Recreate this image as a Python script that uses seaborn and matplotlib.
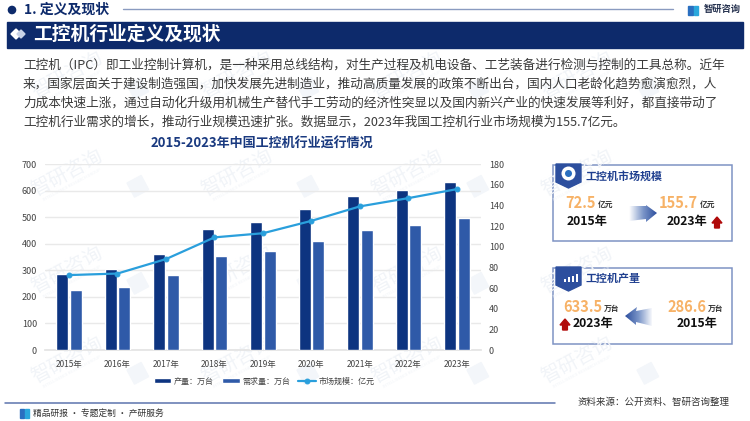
import matplotlib
matplotlib.use('Agg')
import matplotlib.pyplot as plt
from matplotlib.colors import LinearSegmentedColormap
from matplotlib.patches import Circle, Polygon, Rectangle
import seaborn as sns
import pandas as pd
import numpy as np

# 数据
years = ['2015年', '2016年', '2017年', '2018年', '2019年', '2020年', '2021年', '2022年', '2023年']
output_vals = [286.6, 305, 362, 455, 480, 530, 580, 602, 633.5]
demand_vals = [225, 238, 281, 354, 371, 410, 452, 471, 495]
market_vals = [72.5, 74, 88, 109, 113, 125, 139, 147, 155.7]

body_lines = [
    '工控机（IPC）即工业控制计算机，是一种采用总线结构，对生产过程及机电设备、工艺装备进行检测与控制的工具总称。近年',
    '来，国家层面关于建设制造强国，加快发展先进制造业，推动高质量发展的政策不断出台，国内人口老龄化趋势愈演愈烈，人',
    '力成本快速上涨，通过自动化升级用机械生产替代手工劳动的经济性突显以及国内新兴产业的快速发展等利好，都直接带动了',
    '工控机行业需求的增长，推动行业规模迅速扩张。数据显示，2023年我国工控机行业市场规模为155.7亿元。',
]

NAVY = '#0d2a6b'
DARK_BAR = '#0d3480'
LIGHT_BAR = '#2f5aa8'
LINE_BLUE = '#2a9fdc'
ORANGE = '#f7b267'
RED = '#b00a0a'
WATERMARK = '#f1f4f8'
W, H = 750, 421

sns.set_theme(style='white')
plt.rcParams['font.family'] = ['Noto Sans CJK SC', 'DejaVu Sans']
plt.rcParams['axes.unicode_minus'] = False

fig = plt.figure(figsize=(7.5, 4.21), dpi=100, facecolor='white')

# 背景层，用像素坐标
bg = fig.add_axes([0, 0, 1, 1], zorder=0)
bg.set_xlim(0, W)
bg.set_ylim(H, 0)
bg.axis('off')

# 水印
for y in [75, 173, 270, 360]:
    for col in range(4):
        x = 67 + col * 170
        bg.text(x, y, '智研咨询', fontsize=14, color=WATERMARK, rotation=28, ha='center', va='center')
        bg.text(x + 5, y + 12, 'INTELLIGENCE RESEARCH GROUP', fontsize=3, color=WATERMARK, rotation=28,
                ha='center', va='center')
        bg.add_patch(Rectangle((x + 60, y + 10), 16, 16, color='#f3f6fa', angle=-28))

# 页眉
bg.add_patch(Circle((12, 10), 3.6, color=NAVY))
bg.text(24, 9.5, '1. 定义及现状', fontsize=10, fontweight='bold', color=NAVY, va='center')
bg.plot([123, 673], [9, 9], color='#8a9bc0', lw=1)
bg.add_patch(Rectangle((688, 6), 4.5, 9, color='#2a6fc0'))
bg.add_patch(Rectangle((693.5, 6), 4.5, 9, color='#2aa7dc'))
bg.text(704, 9, '智研咨询', fontsize=6.7, fontweight='bold', color='#26324f', va='center')
bg.add_patch(Rectangle((7, 21.5), 736, 26, color=NAVY))
bg.add_patch(Polygon([(11, 34), (16, 29), (21, 34), (16, 39)], color='white'))
bg.add_patch(Polygon([(17, 34), (21, 30), (25, 34), (21, 38)], color='#c8d2e6'))
bg.text(33, 34, '工控机行业定义及现状', fontsize=13.5, fontweight='bold', color='white', va='center')

# 正文
for i, line in enumerate(body_lines):
    bg.text(23, 65 + i * 19, line, fontsize=9.12, color='#3a3a3a', va='center')

bg.text(262, 144, '2015-2023年中国工控机行业运行情况', fontsize=9.4, fontweight='bold', color='#1a3a80',
        ha='center', va='center')

# 主图
df = pd.DataFrame({'year': years, '产量：万台': output_vals, '需求量：万台': demand_vals})
df = df.melt(id_vars='year', var_name='kind', value_name='value')

ax = fig.add_axes([44.75 / W, 1 - 350 / H, 436.5 / W, 186 / H], zorder=2)
ax.patch.set_alpha(0)
sns.barplot(data=df, x='year', y='value', hue='kind', palette=[DARK_BAR, LIGHT_BAR], saturation=1,
            width=0.57, gap=0.12, ax=ax, zorder=3)
handles, labels = ax.get_legend_handles_labels()
ax.get_legend().remove()
ax.set_ylim(0, 700)
ax.set_yticks(range(0, 701, 100))
ax.set_xlabel('')
ax.set_ylabel('')
ax.grid(axis='y', color='#e9e9e9', lw=1)
ax.set_axisbelow(True)
ax.tick_params(axis='x', length=0, labelsize=6, labelcolor='#444444', pad=7)
ax.tick_params(axis='y', length=0, labelsize=6.5, labelcolor='#444444', pad=5.5)
sns.despine(ax=ax, left=True)
ax.spines['bottom'].set_color('#e4e4e4')

ax2 = ax.twinx()
ax2.patch.set_alpha(0)
sns.lineplot(x=np.arange(len(years)), y=market_vals, color=LINE_BLUE, lw=1.6, marker='o', ms=3.5,
             mec=LINE_BLUE, label='市场规模：亿元', ax=ax2, zorder=5)
h2, l2 = ax2.get_legend_handles_labels()
ax2.get_legend().remove()
ax2.set_ylim(0, 180)
ax2.set_yticks(range(0, 181, 20))
ax2.set_xlim(-0.5, len(years) - 0.5)
ax2.set_ylabel('')
ax2.grid(False)
ax2.tick_params(axis='y', length=0, labelsize=6.5, labelcolor='#444444', pad=5.5)
sns.despine(ax=ax2, left=True, right=True, top=True)
ax2.spines['bottom'].set_visible(False)

fig.legend(handles + h2, labels + l2, loc='center', bbox_to_anchor=(264 / W, 1 - 381 / H), ncol=3, frameon=False,
           fontsize=5.8, labelcolor='#444444', handlelength=2.2, handleheight=0.5, columnspacing=1.0, handletextpad=0.3)


def gradient_arrow(points, extent, cmap_colors):
    cmap = LinearSegmentedColormap.from_list('arrow', cmap_colors)
    im = bg.imshow(np.linspace(0, 1, 64).reshape(1, -1), extent=extent, cmap=cmap, aspect='auto', zorder=3)
    patch = Polygon(points, transform=bg.transData, fc='none', ec='none')
    bg.add_patch(patch)
    im.set_clip_path(patch)
    bg.set_xlim(0, W)
    bg.set_ylim(H, 0)


def panel(top, title):
    bg.add_patch(Rectangle((553, top), 179, 76, fc='white', ec='#7f93c4', lw=1.1, zorder=2))
    left = 556
    bg.add_patch(Polygon([(left, top - 1), (left + 25, top - 1), (left + 25, top + 17), (left + 12.5, top + 23),
                          (left, top + 17)], color='#2d4f9e', zorder=3))
    bg.text(586, top + 11, title, fontsize=7.9, fontweight='bold', color='#1f3f8f', va='center', zorder=3)


def big(x, y, val, unit, ux):
    bg.text(x, y, val, fontsize=10.5, fontweight='bold', color=ORANGE, va='center', zorder=3)
    bg.text(ux, y + 1, unit, fontsize=5.6, fontweight='bold', color='#333333', va='center', zorder=3)


def year_text(x, y, s):
    bg.text(x, y, s, fontsize=8.8, fontweight='bold', color='#111111', va='center', zorder=3)


def up_arrow(cx, cy):
    bg.add_patch(Polygon([(cx - 5, cy), (cx, cy - 6), (cx + 5, cy), (cx + 2.4, cy), (cx + 2.4, cy + 5),
                          (cx - 2.4, cy + 5), (cx - 2.4, cy)], color=RED, zorder=3))


# 市场规模卡片
panel(165, '工控机市场规模')
bg.add_patch(Circle((568.5, 173.5), 7, fc='white', ec='none', zorder=4))
bg.add_patch(Circle((568.5, 173.5), 3.5, fc='#2a6fc0', ec='none', zorder=5))
big(565, 203, '72.5', '亿元', 598)
big(659, 203, '155.7', '亿元', 700)
year_text(567, 222, '2015年')
year_text(667, 222, '2023年')
up_arrow(717, 223)
gradient_arrow([(629, 206), (646, 206), (646, 205), (657, 213), (646, 222), (646, 219), (629, 221)],
               (629, 657, 222, 205), ['#ffffff', '#7d97c9', '#2d4f9e'])

# 产量卡片
panel(268, '工控机产量')
for bx, bh in zip([564, 568, 572, 576], [3, 5, 6, 8]):
    bg.add_patch(Rectangle((bx, 282 - bh), 2.4, bh, fc='white', ec='none', zorder=4))
big(563, 307, '633.5', '万台', 604)
big(667, 307, '286.6', '万台', 708)
year_text(573, 324, '2023年')
year_text(677, 324, '2015年')
up_arrow(565, 325)
gradient_arrow([(652, 308), (636, 311), (637, 307), (625, 316), (636, 325), (636, 322), (652, 326)],
               (625, 653, 326, 307), ['#2d4f9e', '#7d97c9', '#ffffff'])

# 页脚
bg.plot([5, 555], [403, 403], color='#5c74ad', lw=1.1)
bg.add_patch(Rectangle((20, 409), 4, 9, color='#2a6fc0'))
bg.add_patch(Rectangle((25, 409), 4, 9, color='#2aa7dc'))
bg.text(33, 413.5, '精品研报 · 专题定制 · 产研服务', fontsize=6.3, color='#333333', va='center')
bg.text(577, 402, '资料来源：公开资料、智研咨询整理', fontsize=6.8, color='#333333', va='center')

fig.savefig('out.png', dpi=100)
